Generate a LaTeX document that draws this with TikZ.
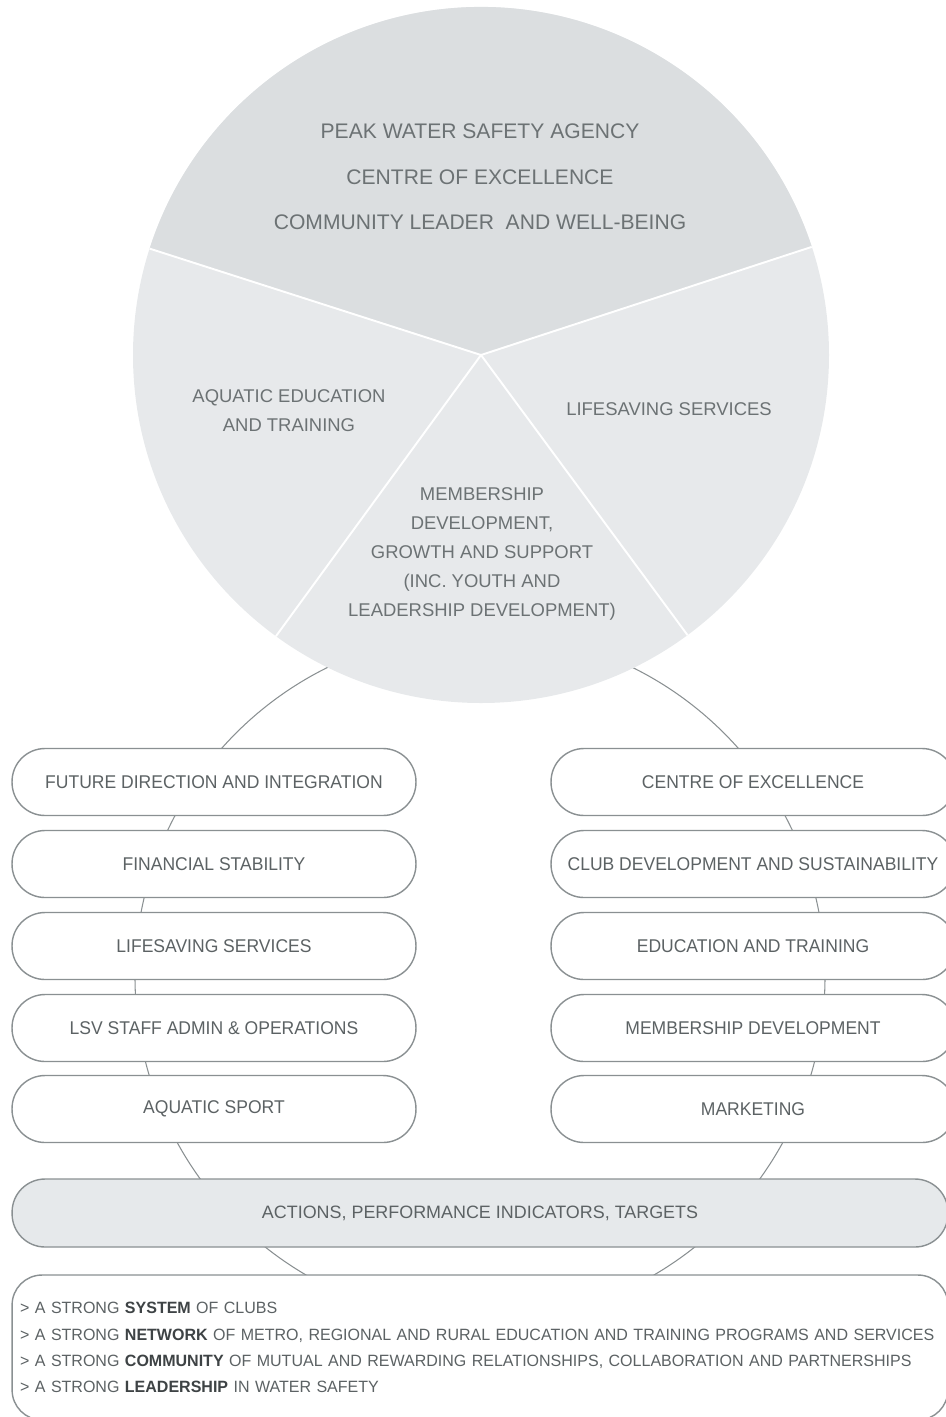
\documentclass[tikz,border=0pt]{standalone}
\usepackage{fontspec}
\setmainfont{Liberation Sans}
\newfontfamily\boxfont{Liberation Sans}[FakeStretch=0.95]
\newfontfamily\listfont{Liberation Sans}[FakeStretch=0.98]

\definecolor{pietop}{HTML}{DBDEE0}
\definecolor{pielow}{HTML}{E7E9EB}
\definecolor{linegray}{HTML}{8A9092}
\definecolor{txtgray}{HTML}{5C6264}
\definecolor{boldgray}{HTML}{3E4345}
\definecolor{actfill}{HTML}{E6E9EB}

\tikzset{
	pill/.style={draw=linegray, line width=0.8pt, fill=white, rounded corners=0.66cm,
		minimum width=8.08cm, minimum height=1.34cm, text=txtgray,
		font=\boxfont\fontsize{10.5}{12}\selectfont},
	pietext/.style={text=txtgray!90, align=center},
	ring/.style={draw=linegray, line width=0.6pt}
}

\begin{document}
\begin{tikzpicture}[x=0.02cm, y=-0.02cm]

		\useasboundingbox (0,0) rectangle (946,1417);
		\clip (0,0) rectangle (946,1417);

		% Нижнее кольцо за блоками
		\draw[ring] (480,977) circle (345);

		% Круговая диаграмма
		\coordinate (hub) at (481,355);
		\fill[pielow] (hub) circle (348);
		\fill[pietop] (hub) -- ++(-18.1:348) arc (-18.1:-162.2:348) -- cycle;
		\foreach \a in {-18.1,-162.2,126.1,53.6} {
				\draw[white, line width=1.1pt] (hub) -- ++(\a:348);
			}

		\node[pietext, font=\fontsize{12}{25.8}\selectfont] (mission) at (480,177)
			{PEAK WATER SAFETY AGENCY\\CENTRE OF EXCELLENCE\\COMMUNITY LEADER\ \ AND WELL-BEING};
		\node[pietext, font=\fontsize{10.5}{16.4}\selectfont] (aquatic) at (289,411)
			{AQUATIC EDUCATION\\AND TRAINING};
		\node[pietext, font=\fontsize{10.5}{16.4}\selectfont] (lifesave) at (669,409)
			{LIFESAVING SERVICES};
		\node[pietext, font=\fontsize{10.5}{16.4}\selectfont] (member) at (482,554)
			{MEMBERSHIP\\DEVELOPMENT,\\GROWTH AND SUPPORT\\(INC. YOUTH AND\\LEADERSHIP DEVELOPMENT)};

		% Левый столбец
		\foreach \n/\y/\t in {1/782/FUTURE DIRECTION AND INTEGRATION, 2/864/FINANCIAL STABILITY,
				3/946/LIFESAVING SERVICES, 4/1028/LSV STAFF ADMIN \& OPERATIONS, 5/1109/AQUATIC SPORT} {
				\node[pill] (l\n) at (214,\y) {\t};
			}

		% Правый столбец
		\foreach \n/\y/\t in {1/782/CENTRE OF EXCELLENCE, 2/864/CLUB DEVELOPMENT AND SUSTAINABILITY,
				3/946/EDUCATION AND TRAINING, 4/1028/MEMBERSHIP DEVELOPMENT, 5/1109/MARKETING} {
				\node[pill] (r\n) at (753,\y) {\t};
			}

		% Действия
		\node[pill, fill=actfill, minimum width=18.72cm, minimum height=1.36cm,
			font=\fontsize{10.2}{12}\selectfont] (act) at (480,1213)
			{ACTIONS, PERFORMANCE INDICATORS, TARGETS};

		% Итоги
		\node[draw=linegray, line width=0.8pt, fill=white, rounded corners=0.6cm,
			minimum width=18.72cm, minimum height=2.9cm, text width=18.4cm, align=left,
			inner xsep=0.16cm, text=txtgray, font=\listfont\fontsize{9.3}{14.9}\selectfont]
			(goals) at (480,1347.5)
			{> A STRONG \textcolor{boldgray}{\bfseries SYSTEM} OF CLUBS\\
			 > A STRONG \textcolor{boldgray}{\bfseries NETWORK} OF METRO, REGIONAL AND RURAL EDUCATION AND TRAINING PROGRAMS AND SERVICES\\
			 > A STRONG \textcolor{boldgray}{\bfseries COMMUNITY} OF MUTUAL AND REWARDING RELATIONSHIPS, COLLABORATION AND PARTNERSHIPS\\
			 > A STRONG \textcolor{boldgray}{\bfseries LEADERSHIP} IN WATER SAFETY};
	\end{tikzpicture}
\end{document}
